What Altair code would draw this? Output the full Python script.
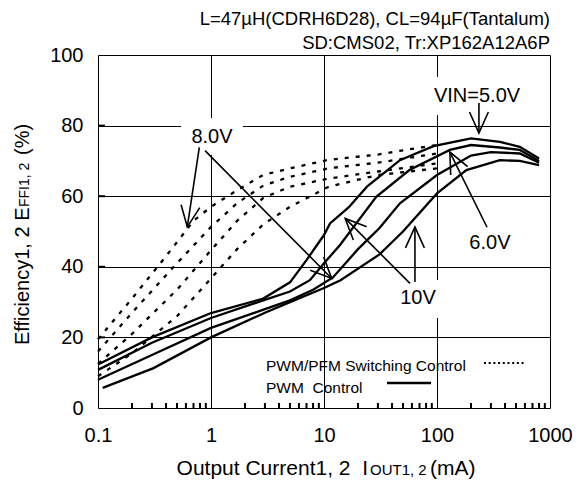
import math
import altair as alt
import pandas as pd

# ---------------- data ----------------
# PWM control (solid lines)
PWM_50_I = [0.1, 0.3, 1, 2.9, 5, 7, 10, 11.3, 16.5, 24, 47, 93, 200, 360, 540, 800]
PWM_50_E = [12.3, 20, 26.9, 31, 35.6, 41.9, 49, 52.3, 56.8, 62.7, 70.2, 74.2, 76.4, 75.4, 74, 70.7]
PWM_60_I = [0.1, 0.3, 1, 2.9, 5, 7.5, 10, 13.8, 29, 57, 130, 200, 360, 540, 800]
PWM_60_E = [10.8, 18.5, 25.5, 30.5, 33, 36.2, 41, 46.1, 59.8, 67.4, 73.1, 74.5, 73.8, 73.1, 70.0]
PWM_80_I = [0.1, 0.3, 1, 3, 5, 8, 12, 20, 31, 47, 100, 200, 300, 540, 800]
PWM_80_E = [8.0, 15, 22.7, 28, 30.5, 33.5, 37, 45, 51, 58, 66, 71.5, 72.5, 72.1, 69.5]
PWM_100_I = [0.11, 0.31, 1, 3, 5, 10, 14, 31, 50, 100, 182, 360, 540, 800]
PWM_100_E = [5.7, 11.3, 20, 27, 30, 34, 36.2, 43.5, 50, 60.8, 67.4, 70.2, 70.0, 68.8]

# PWM/PFM switching control (dotted lines)
PFM_50_I = [0.1, 0.2, 0.4, 0.7, 1, 1.7, 2.9, 5, 11, 30, 50, 100]
PFM_50_E = [19.5, 31, 43, 53, 57, 61.7, 66, 67.9, 70.3, 71.8, 73, 74.5]
PFM_60_I = [0.1, 0.2, 0.5, 1, 1.7, 2.9, 5, 11, 30, 100]
PFM_60_E = [16, 27, 41, 51.3, 58, 63, 65.5, 67.9, 69.5, 72.1]
PFM_80_I = [0.1, 0.2, 0.5, 1, 1.7, 2.9, 5, 11, 30, 100]
PFM_80_E = [12.5, 21, 33.5, 44.7, 53, 59.5, 62.7, 65, 67, 69.3]
PFM_100_I = [0.1, 0.2, 0.5, 1, 1.7, 2.9, 5, 7, 11, 30, 100]
PFM_100_E = [9, 15.5, 26, 36.7, 45, 52, 57, 59.4, 62.7, 66, 67.9]

X_TICKS = [0.1, 1, 10, 100, 1000]
X_MINOR = [m * d for d in (0.1, 1, 10, 100) for m in range(2, 10)]
Y_TICKS = [0, 20, 40, 60, 80, 100]

# annotation labels (data coordinates)
LABEL_TEXT = ["VIN=5.0V", "6.0V", "8.0V", "10V"]
LABEL_I = [226, 294, 1.02, 67.9]
LABEL_E = [88.4, 46.7, 76.8, 31.1]

# arrows: tail -> tip (data coordinates)
ARROW_TAIL_I = [235, 277, 0.788, 0.885, 57.7, 63.8]
ARROW_TAIL_E = [86.4, 51.2, 73.8, 72.9, 35.3, 35.7]
ARROW_TIP_I = [235, 130, 0.617, 11.7, 15.4, 63.8]
ARROW_TIP_E = [77.9, 72.5, 51.3, 36.7, 53.7, 51.3]

W, H = 452, 353
FONT = "Liberation Sans"


def px(i):
    return (math.log10(i) + 1) / 4 * W


def py(e):
    return H - e / 100 * H


rows = []
for name, xs, ys, kind in [
    ("PWM 5.0V", PWM_50_I, PWM_50_E, "pwm"),
    ("PWM 6.0V", PWM_60_I, PWM_60_E, "pwm"),
    ("PWM 8.0V", PWM_80_I, PWM_80_E, "pwm"),
    ("PWM 10V", PWM_100_I, PWM_100_E, "pwm"),
    ("PFM 5.0V", PFM_50_I, PFM_50_E, "pfm"),
    ("PFM 6.0V", PFM_60_I, PFM_60_E, "pfm"),
    ("PFM 8.0V", PFM_80_I, PFM_80_E, "pfm"),
    ("PFM 10V", PFM_100_I, PFM_100_E, "pfm"),
]:
    for a, b in zip(xs, ys):
        rows.append({"I": a, "E": b, "series": name, "kind": kind})
curves = pd.DataFrame(rows)

arrows = pd.DataFrame({
    "I": ARROW_TAIL_I, "E": ARROW_TAIL_E,
    "I2": ARROW_TIP_I, "E2": ARROW_TIP_E,
})
arrows["angle"] = [
    (math.degrees(math.atan2(px(b) - px(a), -(py(d) - py(c))))) % 360
    for a, c, b, d in zip(ARROW_TAIL_I, ARROW_TAIL_E, ARROW_TIP_I, ARROW_TIP_E)
]

labels = pd.DataFrame({"I": LABEL_I, "E": LABEL_E, "text": LABEL_TEXT})

xscale = alt.Scale(type="log", domain=[0.1, 1000], nice=False)
yscale = alt.Scale(domain=[0, 100], nice=False)

xaxis = alt.Axis(values=X_TICKS, format="~g", grid=True, gridColor="black",
                 gridWidth=1, gridOpacity=1, ticks=False, tickSize=0, domain=False,
                 labelFontSize=20, labelFont=FONT, labelColor="black",
                 labelPadding=17, labelFlush=False, title=None)
yaxis = alt.Axis(values=Y_TICKS, grid=True, gridColor="black", gridWidth=1,
                 gridOpacity=1, ticks=False, tickSize=0, domain=False,
                 labelFontSize=20, labelFont=FONT, labelColor="black",
                 labelPadding=15, title=None)

base = alt.Chart(curves)

grid_layer = base.mark_line(opacity=0).encode(
    x=alt.X("I:Q", scale=xscale, axis=xaxis),
    y=alt.Y("E:Q", scale=yscale, axis=yaxis),
    detail="series:N",
)

X = alt.X("I:Q", scale=xscale)
Y = alt.Y("E:Q", scale=yscale)

# white boxes behind labels (they interrupt the grid in the reference)
boxes = pd.DataFrame({
    "x": [83, 299, 330, 340], "x2": [145, 342, 429, 444],
    "y": [63, 225, 22, 295], "y2": [100, 263, 60, 340],
})
box_layer = alt.Chart(boxes).mark_rect(color="white").encode(
    x=alt.X("x:Q", scale=None), x2="x2:Q",
    y=alt.Y("y:Q", scale=None), y2="y2:Q",
)

minor = pd.DataFrame({"I": X_MINOR})
minor_layer = alt.Chart(minor).mark_rule(color="black", strokeWidth=2).encode(
    x=X, y=alt.value(H), y2=alt.value(H - 5)
)
yt = pd.DataFrame({"E": Y_TICKS[1:-1]})
ytick_layer = alt.Chart(yt).mark_rule(color="black", strokeWidth=2).encode(
    y=Y, x=alt.value(0), x2=alt.value(7)
)

solid = base.transform_filter("datum.kind == 'pwm'").mark_line(
    color="black", strokeWidth=2.3
).encode(x=X, y=Y, detail="series:N")

dotted = base.transform_filter("datum.kind == 'pfm'").mark_line(
    color="black", strokeWidth=2.3, strokeDash=[4, 7]
).encode(x=X, y=Y, detail="series:N")

stems = alt.Chart(arrows).mark_rule(color="black", strokeWidth=1.6).encode(
    x=X, y=Y, x2="I2:Q", y2="E2:Q"
)
heads = alt.Chart(arrows).mark_point(
    shape="M-0.45,1L0,0L0.45,1", filled=False, color="black",
    strokeWidth=1.6, size=1764, opacity=1
).encode(
    x=alt.X("I2:Q", scale=xscale), y=alt.Y("E2:Q", scale=yscale),
    angle=alt.Angle("angle:Q", scale=None),
)

label_layer = alt.Chart(labels).mark_text(
    font=FONT, fontSize=20, color="black", align="center", baseline="middle"
).encode(x=X, y=Y, text="text:N")

# legend (drawn inside the plot)
leg_text = pd.DataFrame({
    "t": ["PWM/PFM Switching Control", "PWM\u00a0\u00a0Control"],
    "x": [168, 168], "y": [311, 333],
})
leg_text_layer = alt.Chart(leg_text).mark_text(
    font=FONT, fontSize=15.5, color="black", align="left", baseline="middle"
).encode(x=alt.X("x:Q", scale=None), y=alt.Y("y:Q", scale=None), text="t:N")

leg_dot = alt.Chart(pd.DataFrame({"a": [0]})).mark_rule(
    color="black", strokeWidth=2, strokeDash=[2, 2.7]
).encode(x=alt.value(386), x2=alt.value(428), y=alt.value(308))
leg_solid = alt.Chart(pd.DataFrame({"a": [0]})).mark_rule(
    color="black", strokeWidth=2.6
).encode(x=alt.value(289), x2=alt.value(333), y=alt.value(328))

# titles
TOP1 = "L=47\u00b5H(CDRH6D28), CL=94\u00b5F(Tantalum)"
TOP2 = "SD:CMS02, Tr:XP162A12A6P"
top = pd.DataFrame({"t": [TOP1, TOP2], "x": [452, 452], "y": [-36, -12]})
top_layer = alt.Chart(top).mark_text(
    font=FONT, fontSize=18.5, color="black", align="right", baseline="middle"
).encode(x=alt.X("x:Q", scale=None), y=alt.Y("y:Q", scale=None), text="t:N")

xt_main = alt.Chart(pd.DataFrame({"a": [0]})).mark_text(
    font=FONT, fontSize=21, color="black", align="right", baseline="alphabetic",
    text="Output Current1, 2\u00a0\u00a0I"
).encode(x=alt.value(270), y=alt.value(420))
xt_sub = alt.Chart(pd.DataFrame({"a": [0]})).mark_text(
    font=FONT, fontSize=15, color="black", align="left", baseline="alphabetic",
    text="OUT1, 2"
).encode(x=alt.value(272), y=alt.value(420))
xt_end = alt.Chart(pd.DataFrame({"a": [0]})).mark_text(
    font=FONT, fontSize=21, color="black", align="left", baseline="alphabetic",
    text="(mA)"
).encode(x=alt.value(332), y=alt.value(420))

yt_main = alt.Chart(pd.DataFrame({"a": [0]})).mark_text(
    font=FONT, fontSize=20, color="black", align="left", baseline="alphabetic",
    text="Efficiency1, 2 E", angle=270
).encode(x=alt.value(-69), y=alt.value(290))
yt_sub = alt.Chart(pd.DataFrame({"a": [0]})).mark_text(
    font=FONT, fontSize=14, color="black", align="left", baseline="alphabetic",
    text="FFI1, 2", angle=270
).encode(x=alt.value(-69), y=alt.value(152))
yt_end = alt.Chart(pd.DataFrame({"a": [0]})).mark_text(
    font=FONT, fontSize=20, color="black", align="left", baseline="alphabetic",
    text="(%)", angle=270
).encode(x=alt.value(-69), y=alt.value(100))

chart = alt.layer(
    grid_layer, box_layer, minor_layer, ytick_layer, dotted, solid,
    stems, heads, label_layer, leg_text_layer, leg_dot, leg_solid,
    top_layer, xt_main, xt_sub, xt_end, yt_main, yt_sub, yt_end,
).properties(
    width=W, height=H,
    autosize=alt.AutoSizeParams(type="none"),
    padding={"left": 90, "top": 47, "right": 29, "bottom": 72},
).configure_view(
    stroke="black", strokeWidth=2.6
).configure(background="white")

chart.save("out.html", embed_options={"renderer": "svg", "actions": False})
